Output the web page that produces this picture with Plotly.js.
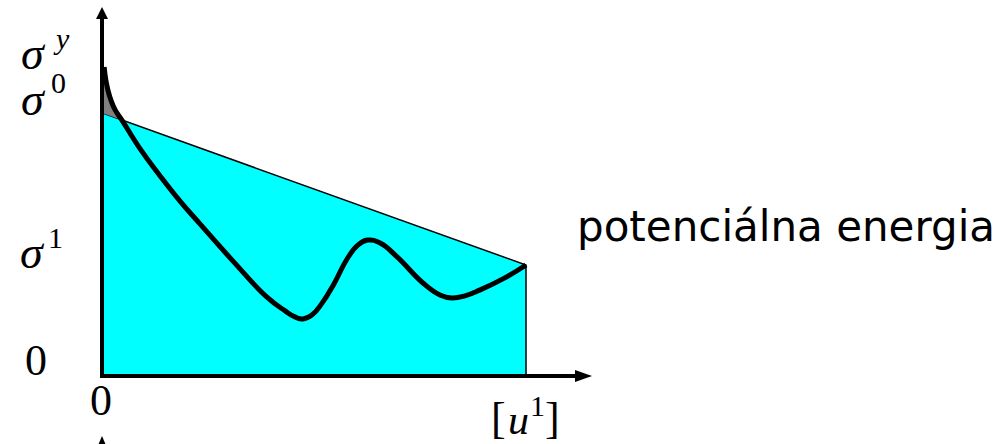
<!DOCTYPE html>
<html>
<head>
<meta charset="utf-8">
<script src="https://cdn.plot.ly/plotly-3.0.1.min.js"></script>
<style>
  html, body { margin: 0; padding: 0; background: #fff; }
  #chart { width: 1007px; height: 444px; }
</style>
</head>
<body>
<div id="chart"></div>
<script>
// Stress levels and end displacement (arbitrary units)
const sigmaYield = 10.3;   // σ^y, start of the curve
const sigma0 = 8.77;       // σ^0, left end of the straight line
const sigma1 = 3.7;        // σ^1, right end of the straight line
const u1 = 10;             // [u^1]

// Load–displacement curve
const curveX = [0.05, 0.09, 0.14, 0.21, 0.31, 0.47, 0.90, 1.37, 1.84, 2.31, 3.09, 3.89, 4.32, 4.55, 4.74,
                4.95, 5.19, 5.47, 5.78, 6.04, 6.27, 6.56, 6.96, 7.57, 7.97, 8.25, 8.56, 8.92, 9.50, 10.0];
const curveY = [10.30, 9.87, 9.53, 9.20, 8.87, 8.53, 7.57, 6.67, 5.83, 5.07, 3.83, 2.63, 2.17, 1.97, 1.90,
                2.03, 2.43, 3.07, 3.90, 4.37, 4.53, 4.43, 3.97, 3.10, 2.70, 2.60, 2.67, 2.87, 3.27, 3.70];

// Index of the point where the curve meets the straight line
const crossIndex = 5;

// Label texts
const sigmaSymbol = 'σ';
const sigmaSups = ['y', '0', '1'];
const zeroLabel = '0';
const dispLabel = ['[', 'u', '1', ']'];
const energyLabel = 'potenciálna energia';

// Pixel <-> data mapping used for the axis ranges (margins are zero)
const W = 1007, H = 444;
const ox = 102, oy = 376, sx = 42.4, sy = 30;
const xRange = [(0 - ox) / sx, (W - ox) / sx];
const yRange = [(oy - H) / sy, (oy - 0) / sy];
const px = v => v / W;
const py = v => 1 - v / H;

// Cyan area under the straight line
const areaTrace = {
  x: [0, 0, u1, u1], y: [0, sigma0, sigma1, 0],
  mode: 'lines', fill: 'toself', fillcolor: '#00ffff',
  line: { color: '#000', width: 1.5 }, hoverinfo: 'skip'
};

// Gray sliver between the curve and the line near the axis
const grayX = [0, 0].concat(curveX.slice(0, crossIndex + 1));
const grayY = [sigma0, sigmaYield].concat(curveY.slice(0, crossIndex + 1));
const grayTrace = {
  x: grayX, y: grayY, mode: 'lines', fill: 'toself', fillcolor: '#808080',
  line: { width: 0 }, hoverinfo: 'skip'
};

const curveTrace = {
  x: curveX, y: curveY, mode: 'lines',
  line: { color: '#000', width: 5, shape: 'spline', smoothing: 1.3 },
  hoverinfo: 'skip'
};

// Axes with arrow heads
const xTip = (592 - ox) / sx, xBase = (575 - ox) / sx;
const yTip = (oy - 7) / sy, yBase = (oy - 19) / sy;
const ah = 6 / sy, aw = 6 / sx;
const shapes = [
  { type: 'line', x0: -1 / sx, y0: 0, x1: xBase, y1: 0, line: { color: '#000', width: 4 }, layer: 'above' },
  { type: 'line', x0: 0, y0: -2 / sy, x1: 0, y1: yBase, line: { color: '#000', width: 4 }, layer: 'above' },
  { type: 'path', path: `M ${xTip} 0 L ${xBase} ${ah} L ${xBase} ${-ah} Z`,
    fillcolor: '#000', line: { width: 0 }, layer: 'above' },
  { type: 'path', path: `M 0 ${yTip} L ${-aw} ${yBase} L ${aw} ${yBase} Z`,
    fillcolor: '#000', line: { width: 0 }, layer: 'above' },
  // start of the second axis below
  { type: 'path', path: `M 0 ${(oy - 436) / sy} L ${-aw} ${(oy - 450) / sy} L ${aw} ${(oy - 450) / sy} Z`,
    fillcolor: '#000', line: { width: 0 }, layer: 'above' }
];

const serif = 'Liberation Serif, Times New Roman, serif';
function label(text, x, y, size, opts) {
  return Object.assign({
    text: text, xref: 'paper', yref: 'paper', x: px(x), y: py(y),
    xanchor: 'center', yanchor: 'middle', showarrow: false,
    font: { family: serif, size: size, color: '#000' }
  }, opts || {});
}

const annotations = [
  label('<i>' + sigmaSymbol + '</i>', 33, 54, 46),
  label('<i>' + sigmaSups[0] + '</i>', 61, 38, 30),
  label('<i>' + sigmaSymbol + '</i>', 33, 99, 46),
  label(sigmaSups[1], 58, 83, 30),
  label('<i>' + sigmaSymbol + '</i>', 32, 252, 46),
  label(sigmaSups[2], 55, 238, 30),
  label(zeroLabel, 36, 360, 44),
  label(zeroLabel, 101, 400, 44),
  label(dispLabel[0], 498, H, 44, { yanchor: 'bottom', borderpad: 0 }),
  label('<i>' + dispLabel[1] + '</i>', 518, H, 42, { yanchor: 'bottom', borderpad: 0 }),
  label(dispLabel[2], 537, 405, 30),
  label(dispLabel[3], 552, H, 44, { yanchor: 'bottom', borderpad: 0 }),
  label(energyLabel, 575, 226, 42,
        { xanchor: 'left', font: { family: 'DejaVu Sans, Verdana, sans-serif', size: 42, color: '#000' } })
];

const layout = {
  width: W, height: H,
  margin: { l: 0, r: 0, t: 0, b: 0 },
  paper_bgcolor: '#fff', plot_bgcolor: '#fff',
  showlegend: false,
  xaxis: { range: xRange, visible: false, fixedrange: true },
  yaxis: { range: yRange, visible: false, fixedrange: true },
  shapes: shapes,
  annotations: annotations
};

Plotly.newPlot('chart', [areaTrace, grayTrace, curveTrace], layout, { displayModeBar: false, staticPlot: true });
</script>
</body>
</html>
